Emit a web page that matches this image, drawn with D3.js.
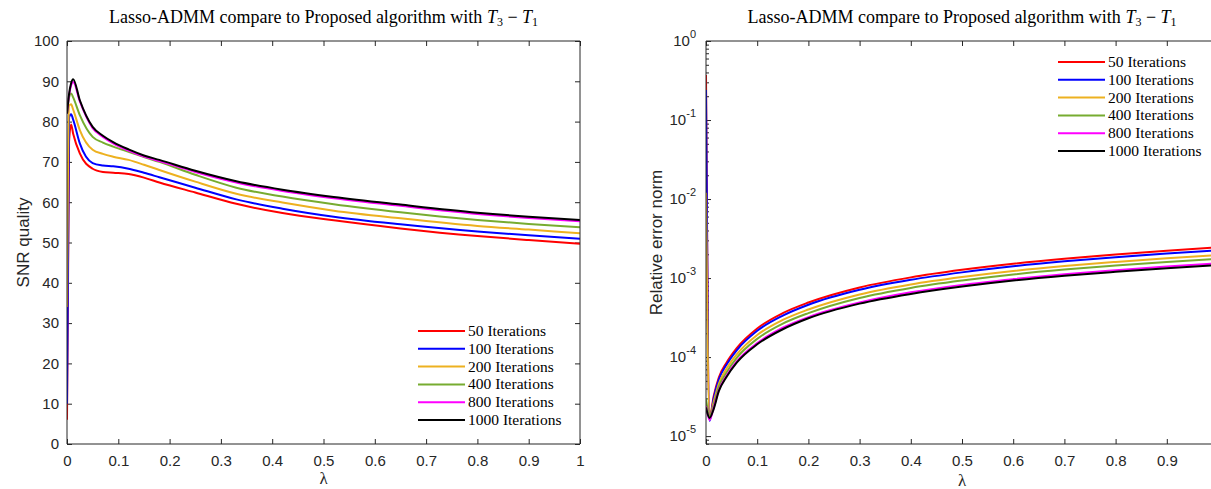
<!DOCTYPE html>
<html>
<head>
<meta charset="utf-8">
<script src="https://cdn.jsdelivr.net/npm/d3@7"></script>
<style>
  body { margin: 0; background: #fff; }
  svg { display: block; }
</style>
</head>
<body>
<svg id="chart" width="1211" height="489"></svg>
<script>
// ---- data ----
var seriesNames = ['50 Iterations', '100 Iterations', '200 Iterations', '400 Iterations', '800 Iterations', '1000 Iterations'];
var seriesColors = ['#ff0000', '#0000ff', '#edb120', '#77ac30', '#ff00ff', '#000000'];

// left panel: SNR quality vs lambda
var snrLambda = [0, 0.004, 0.008, 0.012, 0.025, 0.05, 0.07, 0.09, 0.12, 0.15, 0.18, 0.25, 0.33, 0.42, 0.52, 0.65, 0.8, 0.9, 1.0];
var snr50   = [6,  75,   79.3, 77,   72.1, 68.3, 67.5, 67.3, 67.0, 66.1, 64.9, 62.4, 59.6, 57.3, 55.5, 53.5, 51.6, 50.6, 49.7];
var snr100  = [10, 81,   81.8, 80.5, 74.6, 69.7, 69.1, 68.9, 68.3, 67.3, 66.2, 63.6, 60.7, 58.4, 56.4, 54.5, 52.7, 51.8, 50.9];
var snr200  = [34, 84,   84.3, 83,   77.9, 73,   72,   71.3, 70.5, 69.3, 68,   65.1, 62.1, 59.9, 57.9, 56,   54.1, 53.2, 52.3];
var snr400  = [82, 86,   87,   86,   81.6, 76.2, 74.8, 73.8, 72.5, 71.2, 70,   66.8, 63.6, 61.4, 59.5, 57.5, 55.6, 54.6, 53.8];
var snr800  = [82, 86.5, 89,   89.8, 85,   78.4, 76.2, 74.6, 72.8, 71.3, 70.2, 67.5, 64.9, 62.8, 61,   59.1, 57.1, 56.1, 55.3];
var snr1000 = [82, 86.8, 89.5, 90.5, 85.3, 78.7, 76.5, 74.9, 73.1, 71.6, 70.5, 67.8, 65.2, 63.1, 61.3, 59.4, 57.4, 56.4, 55.6];

// right panel: relative error norm vs lambda
var errLambda = [0, 0.007, 0.015, 0.025, 0.04, 0.06, 0.1, 0.15, 0.2, 0.3, 0.4, 0.5, 0.6, 0.7, 0.8, 0.9, 1.0];
var err50   = [0.37,  1.7e-5,  3.2e-5, 5.5e-5, 8.5e-5, 1.3e-4,  2.3e-4,  3.6e-4,  4.9e-4, 7.6e-4,  1.02e-3, 1.27e-3, 1.52e-3, 1.76e-3, 1.99e-3, 2.22e-3, 2.45e-3];
var err100  = [0.24,  1.55e-5, 3.0e-5, 5.2e-5, 8.0e-5, 1.22e-4, 2.15e-4, 3.35e-4, 4.6e-4, 7.1e-4,  9.5e-4,  1.18e-3, 1.41e-3, 1.63e-3, 1.84e-3, 2.05e-3, 2.25e-3];
var err200  = [0.012, 1.7e-5,  2.7e-5, 4.6e-5, 7.1e-5, 1.08e-4, 1.9e-4,  2.95e-4, 4.0e-4, 6.2e-4,  8.3e-4,  1.03e-3, 1.23e-3, 1.42e-3, 1.6e-3,  1.78e-3, 1.95e-3];
var err400  = [3e-5,  1.75e-5, 2.5e-5, 4.2e-5, 6.4e-5, 9.8e-5,  1.7e-4,  2.65e-4, 3.6e-4, 5.6e-4,  7.5e-4,  9.3e-4,  1.11e-3, 1.28e-3, 1.44e-3, 1.6e-3,  1.75e-3];
var err800  = [2.4e-5, 1.6e-5, 2.3e-5, 3.8e-5, 5.8e-5, 8.8e-5,  1.5e-4,  2.35e-4, 3.2e-4, 4.9e-4,  6.6e-4,  8.2e-4,  9.7e-4,  1.12e-3, 1.26e-3, 1.4e-3,  1.53e-3];
var err1000 = [2.3e-5, 1.7e-5, 2.2e-5, 3.7e-5, 5.6e-5, 8.5e-5,  1.45e-4, 2.25e-4, 3.1e-4, 4.75e-4, 6.3e-4,  7.8e-4,  9.3e-4,  1.07e-3, 1.2e-3,  1.33e-3, 1.46e-3];

var xTicks = [0, 0.1, 0.2, 0.3, 0.4, 0.5, 0.6, 0.7, 0.8, 0.9, 1];
var xTicksRight = [0, 0.1, 0.2, 0.3, 0.4, 0.5, 0.6, 0.7, 0.8, 0.9]; // 1 falls off the page
var snrTicks = [0, 10, 20, 30, 40, 50, 60, 70, 80, 90, 100];
var errExponents = [0, -1, -2, -3, -4, -5];

var titleText = 'Lasso-ADMM compare to Proposed algorithm with ';

// ---- drawing ----
var svg = d3.select('#chart');
var axisColor = '#262626';
var sansFont = '"Liberation Sans", Arial, Helvetica, sans-serif';
var serifFont = '"Liberation Serif", "Times New Roman", serif';

function zip(xs, ys) {
  return xs.map(function (x, i) { return [x, ys[i]]; });
}

function drawTitle(g, cx) {
  var t = g.append('text')
    .attr('x', cx).attr('y', 23)
    .attr('text-anchor', 'middle')
    .attr('font-family', serifFont)
    .attr('font-size', 18)
    .attr('fill', '#000');
  t.append('tspan').text(titleText);
  t.append('tspan').attr('font-style', 'italic').text('T');
  t.append('tspan').attr('font-size', 12).attr('dy', 3).text('3');
  t.append('tspan').attr('dy', -3).text(' \u2212 ');
  t.append('tspan').attr('font-style', 'italic').text('T');
  t.append('tspan').attr('font-size', 12).attr('dy', 3).text('1');
}

function drawLegend(g, lx, ly) {
  var rows = g.selectAll('.legend-row')
    .data(seriesNames)
    .enter()
    .append('g')
    .classed('legend-row', true)
    .attr('transform', function (d, i) { return 'translate(' + lx + ',' + (ly + i * 17.8) + ')'; });
  rows.append('line')
    .attr('x1', 0).attr('x2', 47)
    .attr('stroke', function (d, i) { return seriesColors[i]; })
    .attr('stroke-width', 2);
  rows.append('text')
    .attr('x', 50).attr('y', 5)
    .attr('font-family', serifFont)
    .attr('font-size', 15.5)
    .attr('fill', '#000')
    .text(function (d) { return d; });
}

function styleAxis(sel) {
  sel.select('.domain').remove();
  sel.selectAll('line').attr('stroke', axisColor);
  sel.selectAll('text').attr('fill', axisColor).attr('font-family', sansFont).attr('font-size', 15);
}

function drawFrame(g, left, right, top, bottom) {
  var frame = g.append('g').attr('fill', 'none').attr('stroke', axisColor).attr('stroke-width', 1);
  frame.append('line').attr('x1', left).attr('x2', right).attr('y1', bottom).attr('y2', bottom);
  frame.append('line').attr('x1', left).attr('x2', right).attr('y1', top).attr('y2', top);
  frame.append('line').attr('x1', left).attr('x2', left).attr('y1', top).attr('y2', bottom);
  frame.append('line').attr('x1', right).attr('x2', right).attr('y1', top).attr('y2', bottom);
}

// left panel
(function () {
  var left = 67, right = 580, top = 41, bottom = 444;
  var x = d3.scaleLinear().domain([0, 1]).range([left, right]);
  var y = d3.scaleLinear().domain([0, 100]).range([bottom, top]);
  var g = svg.append('g');

  g.append('clipPath').attr('id', 'clipL')
    .append('rect').attr('x', left).attr('y', top).attr('width', right - left).attr('height', bottom - top);

  g.append('g').attr('transform', 'translate(0,' + bottom + ')')
    .call(d3.axisBottom(x).tickValues(xTicks).tickSize(-5).tickPadding(11).tickFormat(d3.format('')))
    .call(styleAxis);
  g.append('g').attr('transform', 'translate(0,' + top + ')')
    .call(d3.axisTop(x).tickValues(xTicks).tickSize(-5).tickFormat(''))
    .call(styleAxis);
  g.append('g').attr('transform', 'translate(' + left + ',0)')
    .call(d3.axisLeft(y).tickValues(snrTicks).tickSize(-5).tickPadding(8))
    .call(styleAxis);
  g.append('g').attr('transform', 'translate(' + right + ',0)')
    .call(d3.axisRight(y).tickValues(snrTicks).tickSize(-5).tickFormat(''))
    .call(styleAxis);

  var line = d3.line().x(function (d) { return x(d[0]); }).y(function (d) { return y(d[1]); }).curve(d3.curveMonotoneX);
  var snrSeries = [snr50, snr100, snr200, snr400, snr800, snr1000];
  g.append('g').attr('clip-path', 'url(#clipL)')
    .selectAll('path')
    .data(snrSeries)
    .enter()
    .append('path')
    .attr('d', function (d) { return line(zip(snrLambda, d)); })
    .attr('fill', 'none')
    .attr('stroke', function (d, i) { return seriesColors[i]; })
    .attr('stroke-width', 2)
    .attr('stroke-linejoin', 'round');

  drawFrame(g, left, right, top, bottom);
  drawLegend(g, 418, 331);
  drawTitle(g, (left + right) / 2);

  g.append('text')
    .attr('transform', 'translate(29,' + ((top + bottom) / 2) + ') rotate(-90)')
    .attr('text-anchor', 'middle')
    .attr('font-family', sansFont).attr('font-size', 17).attr('fill', axisColor)
    .text('SNR quality');
  g.append('text')
    .attr('x', (left + right) / 2).attr('y', 484)
    .attr('text-anchor', 'middle')
    .attr('font-family', serifFont).attr('font-size', 17).attr('fill', axisColor)
    .text('\u03bb');
})();

// right panel
(function () {
  var left = 706, right = 1218, top = 41, bottom = 444;
  var x = d3.scaleLinear().domain([0, 1]).range([left, right]);
  var y = d3.scaleLog().domain([Math.pow(10, -5.1), 1]).range([bottom, top]);
  var g = svg.append('g');

  g.append('clipPath').attr('id', 'clipR')
    .append('rect').attr('x', left).attr('y', top).attr('width', right - left).attr('height', bottom - top);

  g.append('g').attr('transform', 'translate(0,' + bottom + ')')
    .call(d3.axisBottom(x).tickValues(xTicksRight).tickSize(-5).tickPadding(11).tickFormat(d3.format('')))
    .call(styleAxis);
  g.append('g').attr('transform', 'translate(0,' + top + ')')
    .call(d3.axisTop(x).tickValues(xTicksRight).tickSize(-5).tickFormat(''))
    .call(styleAxis);

  var majorTicks = errExponents.map(function (e) { return Math.pow(10, e); });
  var minorTicks = [];
  errExponents.forEach(function (e) {
    for (var m = 2; m <= 9; m++) {
      var v = m * Math.pow(10, e - 1);
      if (v >= y.domain()[0] && v <= 1) minorTicks.push(v);
    }
  });

  var yAxisG = g.append('g').attr('transform', 'translate(' + left + ',0)')
    .call(d3.axisLeft(y).tickValues(majorTicks).tickSize(-5).tickPadding(10).tickFormat(''))
    .call(styleAxis);
  yAxisG.selectAll('.tick text').each(function (d) {
    var t = d3.select(this);
    t.attr('dy', '0.32em');
    t.append('tspan').text('10');
    t.append('tspan').attr('font-size', 11).attr('dy', -8).text(String(Math.round(Math.log10(d))));
  });
  g.append('g').attr('transform', 'translate(' + left + ',0)')
    .call(d3.axisLeft(y).tickValues(minorTicks).tickSize(-3).tickFormat(''))
    .call(styleAxis);

  var line = d3.line().x(function (d) { return x(d[0]); }).y(function (d) { return y(d[1]); }).curve(d3.curveMonotoneX);
  var errSeries = [err50, err100, err200, err400, err800, err1000];
  g.append('g').attr('clip-path', 'url(#clipR)')
    .selectAll('path')
    .data(errSeries)
    .enter()
    .append('path')
    .attr('d', function (d) { return line(zip(errLambda, d)); })
    .attr('fill', 'none')
    .attr('stroke', function (d, i) { return seriesColors[i]; })
    .attr('stroke-width', 2)
    .attr('stroke-linejoin', 'round');

  drawFrame(g, left, right, top, bottom);
  drawLegend(g, 1058, 62);
  drawTitle(g, (left + right) / 2);

  g.append('text')
    .attr('transform', 'translate(662,' + ((top + bottom) / 2) + ') rotate(-90)')
    .attr('text-anchor', 'middle')
    .attr('font-family', sansFont).attr('font-size', 17).attr('fill', axisColor)
    .text('Relative error norm');
  g.append('text')
    .attr('x', (left + right) / 2).attr('y', 486)
    .attr('text-anchor', 'middle')
    .attr('font-family', serifFont).attr('font-size', 17).attr('fill', axisColor)
    .text('\u03bb');
})();
</script>
</body>
</html>
